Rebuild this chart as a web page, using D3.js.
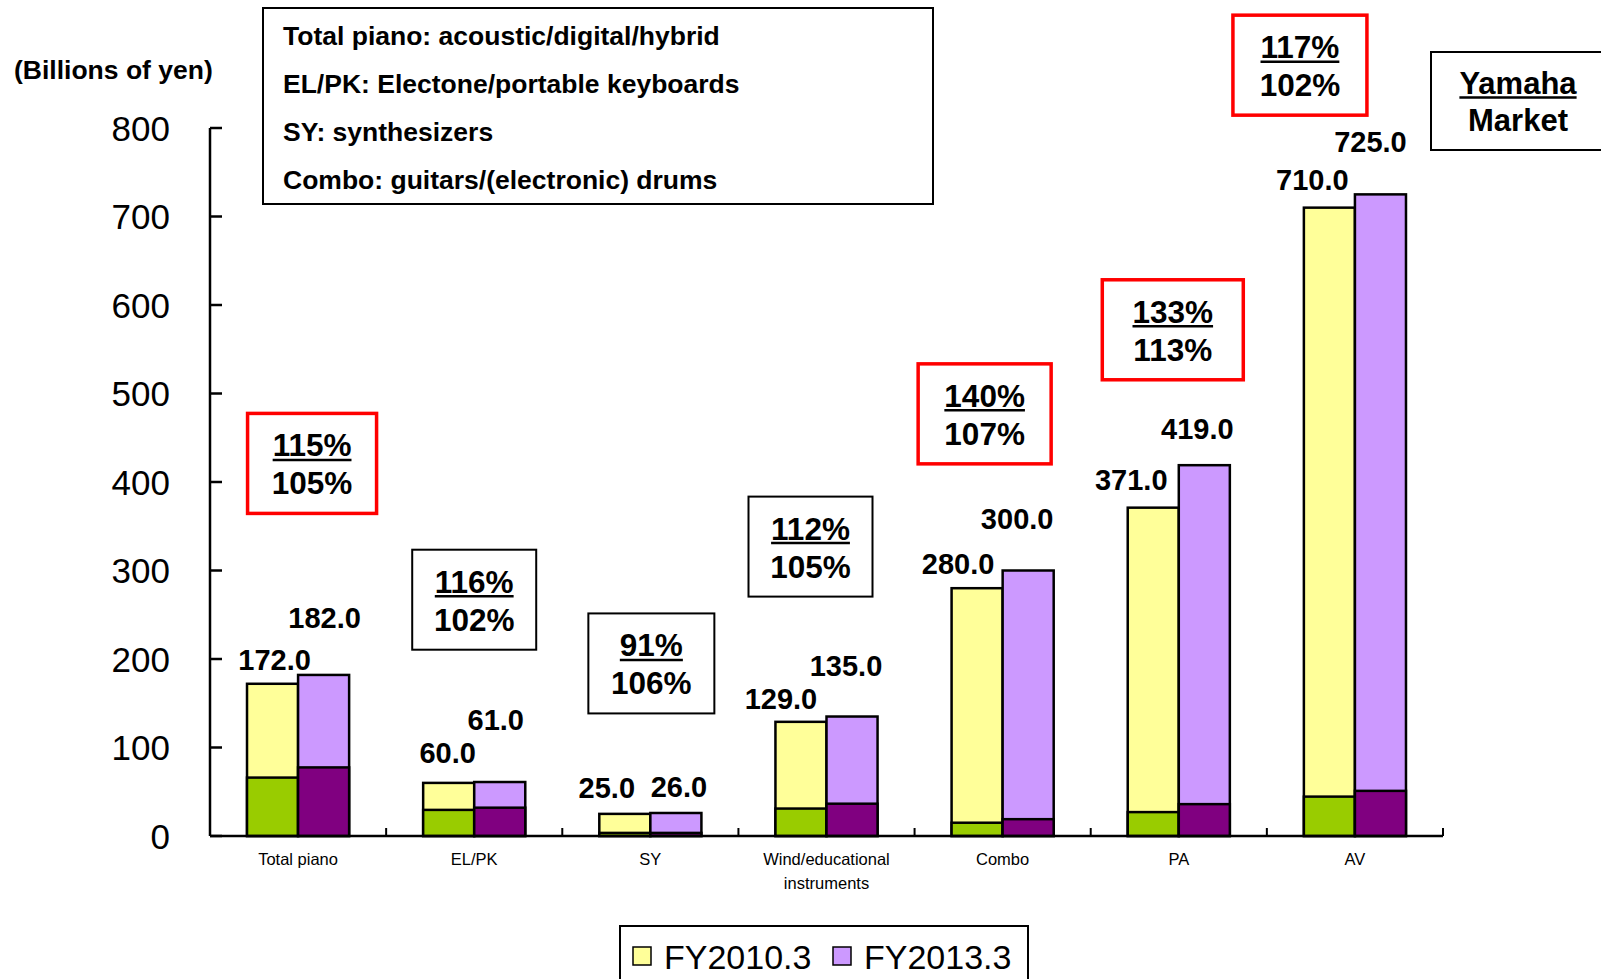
<!DOCTYPE html>
<html>
<head>
<meta charset="utf-8">
<script src="https://cdn.jsdelivr.net/npm/d3@7"></script>
<style>
  body { margin: 0; background: #fff; }
  svg { display: block; font-family: "Liberation Sans", Arial, sans-serif; }
</style>
</head>
<body>
<script>
// categories and values (billions of yen)
var categories = ["Total piano", "EL/PK", "SY", "Wind/educational instruments", "Combo", "PA", "AV"];
var market2010 = [172.0, 60.0, 25.0, 129.0, 280.0, 371.0, 710.0];
var market2013 = [182.0, 61.0, 26.0, 135.0, 300.0, 419.0, 725.0];
// Yamaha share of each bar (darker lower segment)
var yamaha2010 = [66, 29.5, 3.5, 31, 15, 27, 44.5];
var yamaha2013 = [77.5, 32, 3.5, 36.5, 19, 36, 51];
// growth boxes: Yamaha (underlined) / market
var yamahaGrowth = ["115%", "116%", "91%", "112%", "140%", "133%", "117%"];
var marketGrowth = ["105%", "102%", "106%", "105%", "107%", "113%", "102%"];
var redBox = [true, false, false, false, true, true, true];
var seriesNames = ["FY2010.3", "FY2013.3"];
var yTicks = [0, 100, 200, 300, 400, 500, 600, 700, 800];
var notes = [
    "Total piano: acoustic/digital/hybrid",
    "EL/PK: Electone/portable keyboards",
    "SY: synthesizers",
    "Combo: guitars/(electronic) drums"
];

// hand placed label offsets [dx, dy] from bar centre / bar top
var nudge2010 = [[2, -24], [-1, -30], [-18, -26], [-20, -23], [-19, -24], [-22, -28], [-17, -28]];
var nudge2013 = [[1, -57], [-4, -62], [3, -26], [-6, -51], [-11, -52], [-7, -36], [-10, -52]];
// growth box placement: dx from category centre, centre y in axis units, box width
var boxPlace = [[14, 421, 129], [0, 267, 124], [1, 195, 126], [-16, 327, 124],
                [-18, 477, 133], [-6, 572, 141], [-55, 871, 134]];

var colors = {
    market2010: "#ffff99",
    market2013: "#cc99ff",
    yamaha2010: "#99cc00",
    yamaha2013: "#800080"
};

var W = 1601, H = 979;
var plotLeft = 210, plotRight = 1443, plotTop = 128, plotBottom = 836;

var svg = d3.select("body").append("svg")
    .attr("width", W)
    .attr("height", H);

// scales
var x0 = d3.scaleBand().domain(categories).range([plotLeft, plotRight]);
var x1 = d3.scaleBand().domain([0, 1]).range([0, x0.bandwidth()]).paddingOuter(0.725);
var y = d3.scaleLinear().domain([0, 800]).range([plotBottom, plotTop]);

// bars
var groups = svg.append("g").selectAll("g")
    .data(categories)
    .enter().append("g")
    .attr("transform", function (d) { return "translate(" + x0(d) + ",0)"; });

function drawBars(total, part, totalColor, partColor, s) {
    groups.append("rect")
        .attr("x", x1(s))
        .attr("width", x1.bandwidth())
        .attr("y", function (d, i) { return y(total[i]); })
        .attr("height", function (d, i) { return y(0) - y(total[i]); })
        .attr("fill", totalColor)
        .attr("stroke", "#000")
        .attr("stroke-width", 2.5);
    groups.append("rect")
        .attr("x", x1(s))
        .attr("width", x1.bandwidth())
        .attr("y", function (d, i) { return y(part[i]); })
        .attr("height", function (d, i) { return y(0) - y(part[i]); })
        .attr("fill", partColor)
        .attr("stroke", "#000")
        .attr("stroke-width", 2.5);
}
drawBars(market2010, yamaha2010, colors.market2010, colors.yamaha2010, 0);
drawBars(market2013, yamaha2013, colors.market2013, colors.yamaha2013, 1);

// value labels
function drawLabels(total, nudge, s) {
    groups.append("text")
        .attr("x", function (d, i) { return x1(s) + x1.bandwidth() / 2 + nudge[i][0]; })
        .attr("y", function (d, i) { return y(total[i]) + nudge[i][1]; })
        .attr("text-anchor", "middle")
        .attr("dominant-baseline", "central")
        .attr("font-size", 29)
        .attr("font-weight", "bold")
        .text(function (d, i) { return total[i].toFixed(1); });
}
drawLabels(market2010, nudge2010, 0);
drawLabels(market2013, nudge2013, 1);

// y axis
var yAxis = svg.append("g");
yAxis.append("line")
    .attr("x1", plotLeft).attr("x2", plotLeft)
    .attr("y1", y(800)).attr("y2", y(0))
    .attr("stroke", "#000").attr("stroke-width", 2.5);
yAxis.selectAll(".tick")
    .data(yTicks)
    .enter().append("line")
    .attr("x1", plotLeft).attr("x2", plotLeft + 12)
    .attr("y1", function (d) { return y(d); })
    .attr("y2", function (d) { return y(d); })
    .attr("stroke", "#000").attr("stroke-width", 2.5);
yAxis.selectAll("text")
    .data(yTicks)
    .enter().append("text")
    .attr("x", 170)
    .attr("y", function (d) { return y(d); })
    .attr("text-anchor", "end")
    .attr("dominant-baseline", "central")
    .attr("font-size", 35)
    .text(function (d) { return d; });

svg.append("text")
    .attr("x", 14).attr("y", 70)
    .attr("dominant-baseline", "central")
    .attr("font-size", 26.5)
    .attr("font-weight", "bold")
    .text("(Billions of yen)");

// x axis
var xAxis = svg.append("g");
xAxis.append("line")
    .attr("x1", plotLeft).attr("x2", plotRight)
    .attr("y1", plotBottom).attr("y2", plotBottom)
    .attr("stroke", "#000").attr("stroke-width", 2.5);
xAxis.selectAll(".tick")
    .data(categories)
    .enter().append("line")
    .attr("x1", function (d) { return x0(d) + x0.step(); })
    .attr("x2", function (d) { return x0(d) + x0.step(); })
    .attr("y1", plotBottom).attr("y2", plotBottom - 8)
    .attr("stroke", "#000").attr("stroke-width", 2);
xAxis.selectAll("text")
    .data(categories)
    .enter().append("text")
    .attr("x", function (d) { return x0(d) + x0.bandwidth() / 2; })
    .attr("y", 859)
    .attr("text-anchor", "middle")
    .attr("font-size", 16.5)
    .each(function (d) {
        var lines = d === "Wind/educational instruments" ? ["Wind/educational", "instruments"] : [d];
        var t = d3.select(this);
        lines.forEach(function (l, k) {
            t.append("tspan")
                .attr("x", x0(d) + x0.bandwidth() / 2)
                .attr("dy", k === 0 ? "0.35em" : 24)
                .text(l);
        });
    });

// growth boxes
var boxH = 100;
boxPlace.forEach(function (p, i) {
    var cx = x0(categories[i]) + x0.bandwidth() / 2 + p[0];
    var cy = y(p[1]);
    var g = svg.append("g");
    g.append("rect")
        .attr("x", cx - p[2] / 2).attr("y", cy - boxH / 2)
        .attr("width", p[2]).attr("height", boxH)
        .attr("fill", "#fff")
        .attr("stroke", redBox[i] ? "#ff0000" : "#000")
        .attr("stroke-width", redBox[i] ? 3.5 : 2);
    var t1 = g.append("text")
        .attr("x", cx).attr("y", cy - 7)
        .attr("text-anchor", "middle")
        .attr("font-size", 31.5).attr("font-weight", "bold")
        .text(yamahaGrowth[i]);
    var w1 = t1.node().getComputedTextLength();
    g.append("line")
        .attr("x1", cx - w1 / 2).attr("x2", cx + w1 / 2)
        .attr("y1", cy - 3.5).attr("y2", cy - 3.5)
        .attr("stroke", "#000").attr("stroke-width", 2.5);
    g.append("text")
        .attr("x", cx).attr("y", cy + 31)
        .attr("text-anchor", "middle")
        .attr("font-size", 31.5).attr("font-weight", "bold")
        .text(marketGrowth[i]);
});

// Yamaha / Market key box
var key = svg.append("g");
key.append("rect")
    .attr("x", 1431).attr("y", 52)
    .attr("width", 200).attr("height", 98)
    .attr("fill", "#fff").attr("stroke", "#000").attr("stroke-width", 2);
var kt = key.append("text")
    .attr("x", 1518).attr("y", 94)
    .attr("text-anchor", "middle")
    .attr("font-size", 31).attr("font-weight", "bold")
    .text("Yamaha");
var kw = kt.node().getComputedTextLength();
key.append("line")
    .attr("x1", 1518 - kw / 2).attr("x2", 1518 + kw / 2)
    .attr("y1", 97.5).attr("y2", 97.5)
    .attr("stroke", "#000").attr("stroke-width", 2.5);
key.append("text")
    .attr("x", 1518).attr("y", 131)
    .attr("text-anchor", "middle")
    .attr("font-size", 31).attr("font-weight", "bold")
    .text("Market");

// notes box
var nb = svg.append("g");
nb.append("rect")
    .attr("x", 263).attr("y", 8)
    .attr("width", 670).attr("height", 196)
    .attr("fill", "#fff").attr("stroke", "#000").attr("stroke-width", 2);
nb.selectAll("text")
    .data(notes)
    .enter().append("text")
    .attr("x", 283)
    .attr("y", function (d, i) { return 36 + i * 48; })
    .attr("dominant-baseline", "central")
    .attr("font-size", 26.5)
    .attr("font-weight", "bold")
    .text(function (d) { return d; });

// legend
var lg = svg.append("g");
lg.append("rect")
    .attr("x", 620).attr("y", 926)
    .attr("width", 408).attr("height", 80)
    .attr("fill", "#fff").attr("stroke", "#000").attr("stroke-width", 2);
var legendColors = [colors.market2010, colors.market2013];
seriesNames.forEach(function (s, i) {
    var lx = 633 + i * 200;
    lg.append("rect")
        .attr("x", lx).attr("y", 947)
        .attr("width", 18).attr("height", 18)
        .attr("fill", legendColors[i]).attr("stroke", "#000").attr("stroke-width", 1.5);
    lg.append("text")
        .attr("x", lx + 31).attr("y", 957)
        .attr("dominant-baseline", "central")
        .attr("font-size", 34)
        .text(s);
});
</script>
</body>
</html>
